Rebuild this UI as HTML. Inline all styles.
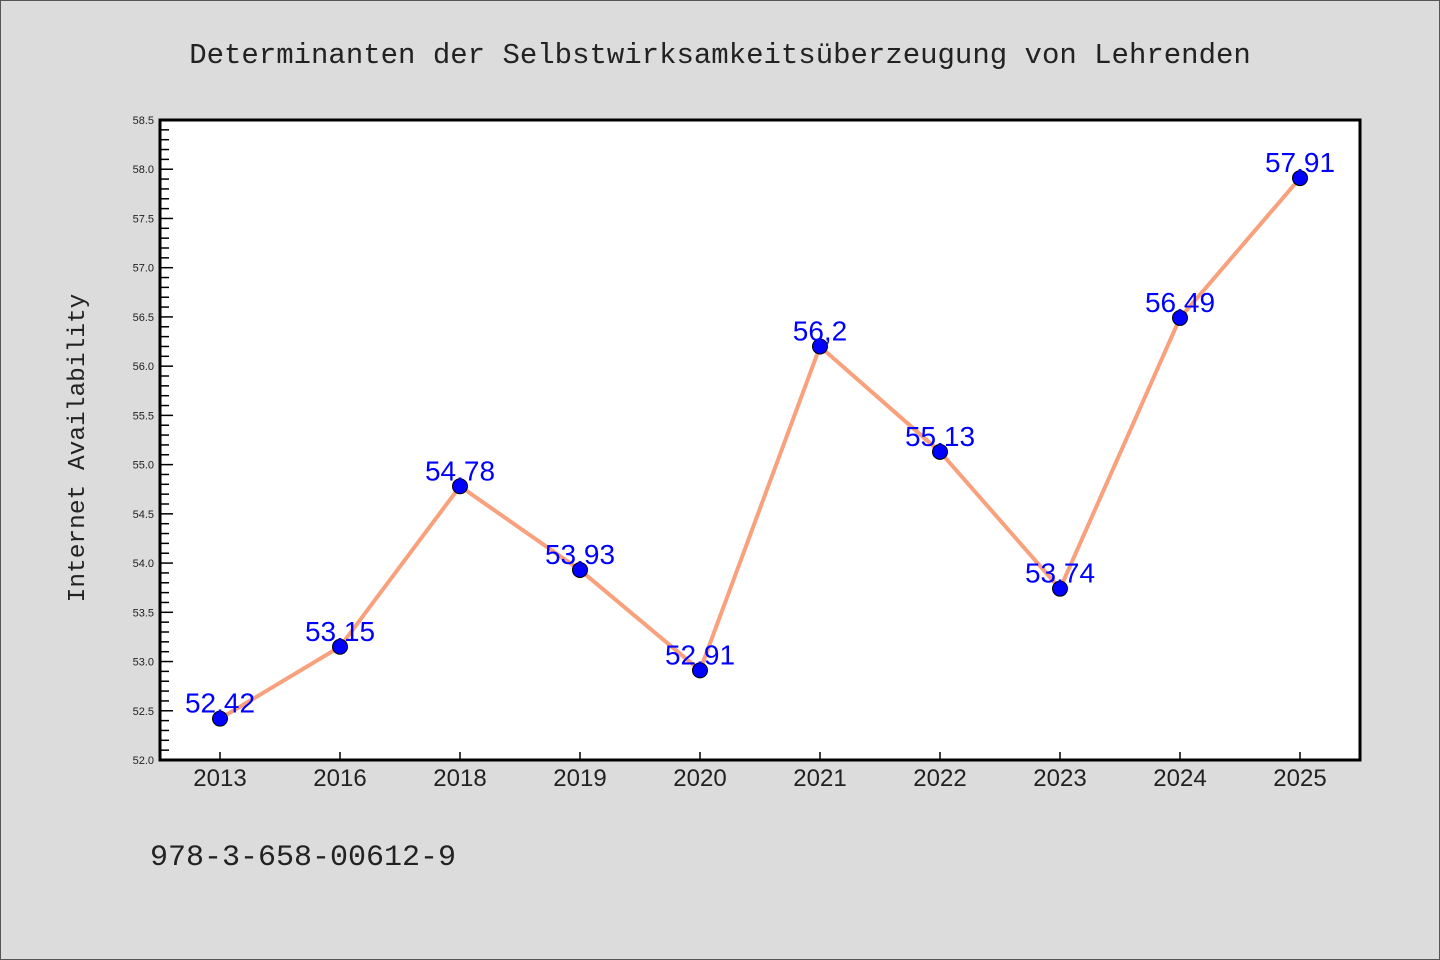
<!DOCTYPE html>
<html><head><meta charset="utf-8"><style>
body{margin:0;background:#dcdcdc}
svg{display:block}
</style></head><body>
<svg id="chart" width="1440" height="960" xmlns="http://www.w3.org/2000/svg">
<rect x="0.5" y="0.5" width="1439" height="959" fill="#dcdcdc" stroke="#555"/>
<text x="720" y="63" text-anchor="middle" font-family="'Liberation Mono', monospace" font-size="29" fill="#222">Determinanten der Selbstwirksamkeitsüberzeugung von Lehrenden</text>
<text transform="translate(84,448) rotate(-90)" text-anchor="middle" font-family="'Liberation Mono', monospace" font-size="24.5" fill="#222">Internet Availability</text>
<text x="150" y="865" font-family="'Liberation Mono', monospace" font-size="30" fill="#222">978-3-658-00612-9</text>
<rect x="160" y="120" width="1200" height="640" fill="#fff"/>
<g id="axes"></g>
<g id="series"></g>
<rect x="160" y="120" width="1200" height="640" fill="none" stroke="#000" stroke-width="3"/>
</svg>
<script>
const categories=["2013","2016","2018","2019","2020","2021","2022","2023","2024","2025"];
const values=[52.42,53.15,54.78,53.93,52.91,56.2,55.13,53.74,56.49,57.91];
const valueLabels=["52,42","53,15","54,78","53,93","52,91","56,2","55,13","53,74","56,49","57,91"];
const yTicks=["52.0","52.5","53.0","53.5","54.0","54.5","55.0","55.5","56.0","56.5","57.0","57.5","58.0","58.5"];
const NS="http://www.w3.org/2000/svg";
const L=160,T=120,W=1200,H=640,yMin=52,yMax=58.5;
const x=i=>L+W/categories.length*(i+0.5);
const y=v=>T+H-(v-yMin)/(yMax-yMin)*H;
function mk(tag,attrs,parent){const e=document.createElementNS(NS,tag);for(const k in attrs)e.setAttribute(k,attrs[k]);parent.appendChild(e);return e;}
const axes=document.getElementById('axes'),ser=document.getElementById('series');
for(let v=yMin;v<=yMax+1e-9;v+=0.1){
  const major=Math.abs(v*2-Math.round(v*2))<1e-6;
  const t=mk('line',{x1:L,x2:L+(major?13:9),y1:y(v),y2:y(v),stroke:'#000','stroke-width':1.5},axes);
  
  
}
yTicks.forEach(s=>{
  const t=mk('text',{x:L-6,y:y(parseFloat(s))+4,'text-anchor':'end','font-family':"'Liberation Sans',sans-serif",'font-size':11,fill:'#222'},axes);
  
  
  t.textContent=s;
});
categories.forEach((c,i)=>{
  const t=mk('line',{x1:x(i),x2:x(i),y1:T+H,y2:T+H-8,stroke:'#000','stroke-width':1.5},axes);
  
  
  const l=mk('text',{x:x(i),y:786,'text-anchor':'middle','font-family':"'Liberation Sans',sans-serif",'font-size':24,fill:'#222'},axes);
  
  
  l.textContent=c;
});
const line=mk('polyline',{points:values.map((v,i)=>x(i)+','+y(v)).join(' '),fill:'none',stroke:'#f9a07c','stroke-width':4,'stroke-linejoin':'round'},ser);


values.forEach((v,i)=>{
  const p=mk('circle',{cx:x(i),cy:y(v),r:7.5,fill:'#0000ff',stroke:'#000','stroke-width':1},ser);
  
  
});
values.forEach((v,i)=>{
  const t=mk('text',{x:x(i),y:y(v)-6,'text-anchor':'middle','font-family':"'Liberation Sans',sans-serif",'font-size':28,fill:'#0000ff'},ser);
  
  
  t.textContent=valueLabels[i];
});
</script>
</body></html>
